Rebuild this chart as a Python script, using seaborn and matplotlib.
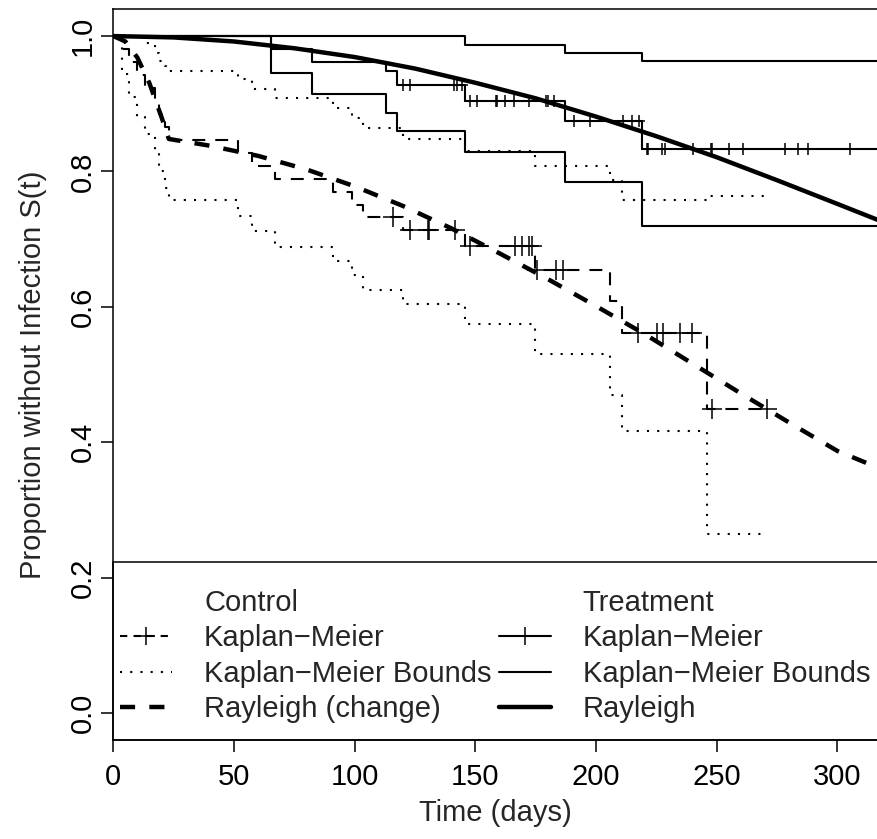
import numpy as np
import pandas as pd
import matplotlib
matplotlib.use("Agg")
import matplotlib.pyplot as plt
import seaborn as sns
from matplotlib.lines import Line2D
from matplotlib.patches import Rectangle

# ---------------- data ----------------
# Control group Kaplan-Meier (step values after each time)
ctrl_t = [0, 3.5, 6.5, 9.7, 13.0, 17.3, 18.8, 21.4, 23.0, 51.8, 57.3, 67.0, 91.0,
          98.7, 103.6, 120.0, 145.7, 174.5, 205.8, 210.6, 246.0, 270.7]
ctrl_km = [1.0, 0.981, 0.962, 0.942, 0.923, 0.904, 0.885, 0.865, 0.846, 0.827, 0.808,
           0.789, 0.770, 0.751, 0.733, 0.714, 0.690, 0.655, 0.609, 0.562, 0.449, 0.449]
ctrl_lo = [1.0, 0.944, 0.910, 0.880, 0.855, 0.830, 0.800, 0.776, 0.758, 0.734, 0.712,
           0.689, 0.668, 0.647, 0.625, 0.604, 0.575, 0.531, 0.469, 0.417, 0.264, 0.264]
ctrl_hi = [1.0, 1.0, 1.0, 1.0, 0.990, 0.975, 0.963, 0.956, 0.949, 0.936, 0.922,
           0.908, 0.893, 0.879, 0.864, 0.848, 0.830, 0.808, 0.787, 0.758, 0.764, 0.764]
ctrl_cens = [116.0, 122.9, 130.2, 130.9, 141.5, 147.8, 166.4, 169.2, 172.3, 173.3,
             175.5, 183.3, 186.4, 217.5, 225.1, 227.8, 234.8, 239.6, 248.0, 270.7]

# Control Rayleigh (change-point) fit
ctrl_ray_t = [0, 5, 10, 15, 20, 23, 40, 60, 80, 100, 120, 140, 160, 180, 200,
              220, 240, 260, 280, 300, 317]
ctrl_ray_s = [1.0, 0.992, 0.968, 0.930, 0.880, 0.848, 0.838, 0.823, 0.803, 0.778,
              0.749, 0.716, 0.679, 0.641, 0.601, 0.560, 0.516, 0.472, 0.429, 0.387, 0.362]

# Treatment group Kaplan-Meier
trt_t = [0, 65.2, 82.2, 113.0, 117.7, 145.7, 187.0, 219.0, 320.0]
trt_km = [1.0, 0.981, 0.962, 0.948, 0.928, 0.904, 0.875, 0.833, 0.833]
trt_lo = [1.0, 0.946, 0.915, 0.887, 0.860, 0.829, 0.784, 0.720, 0.720]
trt_hi = [1.0, 1.0, 1.0, 1.0, 1.0, 0.987, 0.975, 0.963, 0.963]
trt_cens = [120.2, 122.9, 141.1, 142.5, 144.3, 147.8, 150.8, 158.4, 159.1, 162.3,
            166.1, 172.2, 179.1, 180.2, 182.6, 190.8, 197.5, 211.3, 215.0, 217.9,
            221.0, 221.6, 227.4, 228.5, 240.3, 247.5, 247.9, 255.0, 261.0, 278.3,
            283.8, 287.9, 305.2]

# Treatment Rayleigh fit
trt_ray_t = [0, 25, 50, 75, 100, 125, 150, 175, 200, 225, 250, 275, 300, 317]
trt_ray_s = [1.0, 0.998, 0.992, 0.982, 0.969, 0.952, 0.931, 0.908, 0.881, 0.852,
             0.821, 0.787, 0.752, 0.728]

x_ticks = [0, 50, 100, 150, 200, 250, 300]
y_ticks = [0.0, 0.2, 0.4, 0.6, 0.8, 1.0]
y_tick_labels = ["0.0", "0.2", "0.4", "0.6", "0.8", "1.0"]

legend_labels = ["Control", "Kaplan\u2212Meier", "Kaplan\u2212Meier Bounds", "Rayleigh (change)",
                 "Treatment", "Kaplan\u2212Meier", "Kaplan\u2212Meier Bounds", "Rayleigh"]

# ---------------- styling ----------------
sns.set_theme(style="ticks")
plt.rcParams['font.family'] = ['Liberation Sans', 'DejaVu Sans']
plt.rcParams['axes.edgecolor'] = 'black'
plt.rcParams['xtick.color'] = 'black'
plt.rcParams['ytick.color'] = 'black'

FS = 21
thin = 1.5
thick = 3.2
dash_thin = (0, (6.2, 4.8))
dash_thick = (0, (3.4, 3.2))
dotted = (0, (1, 3.9))

W, H = 878, 839
fig = plt.figure(figsize=(W / 100, H / 100), dpi=100)
ax = fig.add_axes([113.3 / W, 1 - 740 / H, (W - 113.3) / W, (740 - 9) / H])


def km_at(t, s, c):
    idx = np.searchsorted(np.asarray(t), np.asarray(c), side='right') - 1
    return np.asarray(s)[idx]


def step(x, y, ls, lw):
    sns.lineplot(x=x, y=y, ax=ax, drawstyle='steps-post', color='black', lw=lw,
                 linestyle=ls, estimator=None, sort=False, errorbar=None)


# control
step(ctrl_t, ctrl_km, dash_thin, thin)
step(ctrl_t, ctrl_lo, dotted, thin)
step(ctrl_t, ctrl_hi, dotted, thin)
sns.scatterplot(x=ctrl_cens, y=km_at(ctrl_t, ctrl_km, ctrl_cens), ax=ax, marker='+',
                s=190, color='black', linewidth=1.1, zorder=3)
sns.lineplot(x=ctrl_ray_t, y=ctrl_ray_s, ax=ax, color='black', lw=thick,
             linestyle=dash_thick, estimator=None, sort=False, errorbar=None)

# treatment
step(trt_t, trt_km, '-', thin)
step(trt_t, trt_lo, '-', thin)
step(trt_t, trt_hi, '-', thin)
sns.scatterplot(x=trt_cens, y=km_at(trt_t, trt_km, trt_cens), ax=ax, marker='+',
                s=85, color='black', linewidth=1.1, zorder=3)
sns.lineplot(x=trt_ray_t, y=trt_ray_s, ax=ax, color='black', lw=thick,
             linestyle='-', estimator=None, sort=False, errorbar=None)

# axes
ax.set_xlim(0, 316.8)
ax.set_ylim(-0.04, 1.04)
ax.set_xticks(x_ticks)
ax.set_xticklabels([str(v) for v in x_ticks])
ax.set_yticks(y_ticks)
ax.set_yticklabels(y_tick_labels, rotation=90, va='center')
ax.tick_params(axis='both', direction='out', length=8.6, width=1.1, labelsize=FS,
               colors='black')
ax.tick_params(axis='x', pad=8)
ax.tick_params(axis='y', pad=3)
for sp in ['left', 'bottom', 'top']:
    ax.spines[sp].set_linewidth(1.1)
    ax.spines[sp].set_color('black')
ax.spines['right'].set_visible(False)
ax.set_xlabel("Time (days)", fontsize=FS, labelpad=6)
ax.set_ylabel("Proportion without Infection S(t)", fontsize=FS, labelpad=16)

# legend box (R-style, attached to bottom-left of the plot region)
box_h = (740 - 562) / (740 - 9)
ax.add_patch(Rectangle((0, 0), 1.2, box_h, transform=ax.transAxes, fill=False,
                       edgecolor='black', lw=1.1, clip_on=False, zorder=4))

blank = Line2D([], [], linestyle='none')
handles = [
    blank,
    Line2D([], [], color='black', lw=thin, linestyle=(0, (3.5, 3)), marker='+', markersize=13, markeredgewidth=1.1),
    Line2D([], [], color='black', lw=thin, linestyle=dotted),
    Line2D([], [], color='black', lw=thick, linestyle=dash_thick),
    blank,
    Line2D([], [], color='black', lw=thin, linestyle='-', marker='+', markersize=13, markeredgewidth=1.1),
    Line2D([], [], color='black', lw=thin, linestyle='-'),
    Line2D([], [], color='black', lw=thick, linestyle='-'),
]
leg = ax.legend(handles, legend_labels, ncol=2, loc='upper left',
                bbox_to_anchor=(0.0088, (740 - 589) / (740 - 9)), frameon=False,
                fontsize=FS, handlelength=1.78, handletextpad=1.1, columnspacing=0.25,
                labelspacing=0.255, borderpad=0, borderaxespad=0, numpoints=1)

fig.savefig("out.png", dpi=100)
